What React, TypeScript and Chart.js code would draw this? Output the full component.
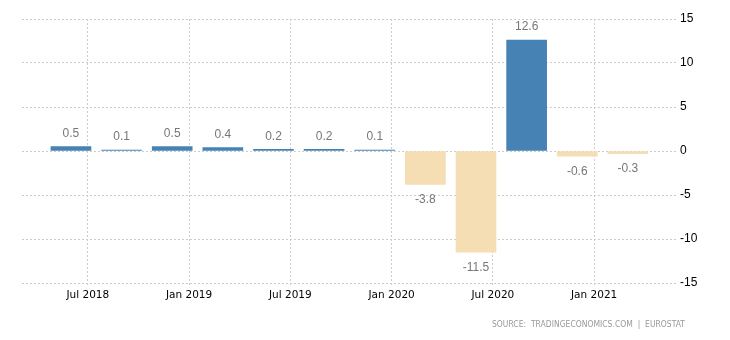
import React, { useEffect, useRef } from "react";
import { Chart, registerables } from "chart.js";

Chart.register(...registerables);

// x positions in months since Jan 2018 (quarterly observations)
const quarterPositions = [5, 8, 11, 14, 17, 20, 23, 26, 29, 32, 35, 38];
const quarterNames = ["Q2 2018", "Q3 2018", "Q4 2018", "Q1 2019", "Q2 2019", "Q3 2019", "Q4 2019", "Q1 2020", "Q2 2020", "Q3 2020", "Q4 2020", "Q1 2021"];
const values = [0.5, 0.1, 0.5, 0.4, 0.2, 0.2, 0.1, -3.8, -11.5, 12.6, -0.6, -0.3];
const tickPositions = [6, 12, 18, 24, 30, 36];
const tickLabels = ["Jul 2018", "Jan 2019", "Jul 2019", "Jan 2020", "Jul 2020", "Jan 2021"];
const yTickValues = [-15, -10, -5, 0, 5, 10, 15];
const sourceText = "SOURCE:  TRADINGECONOMICS.COM  |  EUROSTAT";

const POS_COLOR = "#4682B4";
const NEG_COLOR = "#F5DEB3";

const valueLabelPlugin = {
  id: "valueLabels",
  afterDatasetsDraw(chart: any) {
    const ctx = chart.ctx;
    const meta = chart.getDatasetMeta(0);
    ctx.save();
    ctx.font = "12px 'Liberation Sans', Arial, sans-serif";
    ctx.fillStyle = "#777777";
    ctx.textAlign = "center";
    ctx.textBaseline = "middle";
    meta.data.forEach((el: any, i: number) => {
      const v = values[i];
      const y = v >= 0 ? el.y - 13 : el.y + 15;
      ctx.fillText(v.toFixed(1), el.x, y);
    });
    ctx.restore();
  },
  afterDraw(chart: any) {
    const ctx = chart.ctx;
    ctx.save();
    ctx.font = "8.5px 'DejaVu Sans', sans-serif";
    ctx.fillStyle = "#999999";
    ctx.textAlign = "right";
    ctx.textBaseline = "middle";
    const w = ctx.measureText(sourceText).width;
    const targetW = 193;
    const sx = w > 0 ? targetW / w : 1;
    ctx.translate(685, 325);
    ctx.scale(sx, 1);
    ctx.fillText(sourceText, 0, 0);
    ctx.restore();
  },
};

export default function App() {
  const canvasRef = useRef<HTMLCanvasElement | null>(null);

  useEffect(() => {
    if (!canvasRef.current) return;
    const chart = new Chart(canvasRef.current, {
      type: "bar",
      data: {
        labels: quarterNames,
        datasets: [
          {
            data: quarterPositions.map((x, i) => ({ x, y: values[i] })) as any,
            backgroundColor: values.map((v) => (v >= 0 ? POS_COLOR : NEG_COLOR)),
            barThickness: 40,
            borderWidth: 0,
          },
        ],
      },
      options: {
        responsive: false,
        animation: false,
        layout: { padding: { top: 19, left: 22, right: 0, bottom: 0 } },
        plugins: {
          legend: { display: false },
          tooltip: { enabled: false },
        },
        scales: {
          x: {
            type: "linear",
            min: 2.1,
            max: 40.85,
            offset: false,
            border: { display: false, dash: [2, 2] },
            grid: {
              offset: false,
              color: "#cccccc",
              tickLength: 4,
              drawTicks: true,
              tickColor: "#cccccc",
              tickBorderDash: [2, 2],
            } as any,
            ticks: {
              color: "#000000",
              font: { family: "'DejaVu Sans', sans-serif", size: 10.5 },
              padding: 2,
              maxRotation: 0,
              autoSkip: false,
              callback: (v: any) => {
                const idx = tickPositions.indexOf(Number(v));
                return idx >= 0 ? tickLabels[idx] : "";
              },
            },
            afterBuildTicks: (scale: any) => {
              scale.ticks = tickPositions.map((v) => ({ value: v }));
            },
            afterFit: (scale: any) => {
              scale.height = 57;
            },
          } as any,
          y: {
            position: "right",
            min: -15,
            max: 15,
            border: { display: false, dash: [2, 2] },
            grid: { color: "#cccccc", drawTicks: false },
            ticks: {
              color: "#000000",
              font: { family: "'Liberation Sans', Arial, sans-serif", size: 12 },
              padding: 4,
              stepSize: 5,
            },
            afterBuildTicks: (scale: any) => {
              scale.ticks = yTickValues.map((v) => ({ value: v }));
            },
            afterFit: (scale: any) => {
              scale.width = 54;
            },
          } as any,
        },
      },
      plugins: [valueLabelPlugin],
    });

    return () => chart.destroy();
  }, []);

  return (
    <div style={{ position: "fixed", left: 0, top: 0, width: 730, height: 340, background: "#fff" }}>
      <canvas ref={canvasRef} width={730} height={340} style={{ width: 730, height: 340 }} />
    </div>
  );
}
